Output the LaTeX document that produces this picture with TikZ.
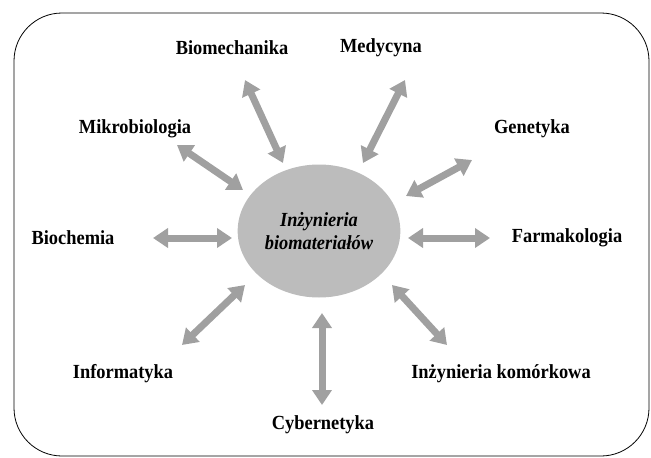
\documentclass[tikz,border=0pt]{standalone}
\usepackage{fontspec}
\setmainfont{Liberation Serif}[FakeStretch=0.92]
\usetikzlibrary{arrows.meta, shapes.geometric}

\definecolor{linkgray}{RGB}{160,160,160}
\definecolor{coregray}{RGB}{188,188,188}

\tikzset{
    field/.style={font=\fontsize{20}{23}\selectfont\bfseries, inner sep=1pt},
    link/.style={draw=linkgray, line width=7pt,
        {Triangle[length=15pt,width=19pt]}-{Triangle[length=15pt,width=19pt]}},
}

\begin{document}
\begin{tikzpicture}[x=1pt, y=-1pt]
    \useasboundingbox (0,0) rectangle (651,458);

    % frame
    \draw[line width=0.8pt, rounded corners=48pt] (14,13) rectangle (649,456);

    % centre
    \node[ellipse, fill=coregray, minimum width=161pt, minimum height=133pt, align=center,
        font=\fontsize{20}{23}\selectfont\bfseries\itshape] (core) at (319,231)
        {Inżynieria\\biomateriałów};

    % fields
    \node[field] (mech) at (232,48) {Biomechanika};
    \node[field] (med) at (381,48) {Medycyna};
    \node[field] (mikro) at (135,129) {Mikrobiologia};
    \node[field] (gen) at (532,129) {Genetyka};
    \node[field] (chem) at (73,238) {Biochemia};
    \node[field] (farm) at (567,238) {Farmakologia};
    \node[field] (info) at (123,374) {Informatyka};
    \node[field] (kom) at (501,374) {Inżynieria komórkowa};
    \node[field] (cyb) at (323,425) {Cybernetyka};

    % arrow ends
    \coordinate (mech1) at (245,80);   \coordinate (mech2) at (283,163);
    \coordinate (med1) at (405,80);    \coordinate (med2) at (363,163);
    \coordinate (mikro1) at (177,145); \coordinate (mikro2) at (243,190);
    \coordinate (gen1) at (472,160);   \coordinate (gen2) at (406,196);
    \coordinate (chem1) at (153,238);  \coordinate (chem2) at (232,238);
    \coordinate (farm1) at (408,238);  \coordinate (farm2) at (490,238);
    \coordinate (info1) at (182,345);  \coordinate (info2) at (245,285);
    \coordinate (kom1) at (392,285);   \coordinate (kom2) at (447,345);
    \coordinate (cyb1) at (322,313);   \coordinate (cyb2) at (322,405);

    \draw[link] (mech1) -- (mech2);
    \draw[link] (med1) -- (med2);
    \draw[link] (mikro1) -- (mikro2);
    \draw[link] (gen1) -- (gen2);
    \draw[link] (chem1) -- (chem2);
    \draw[link] (farm1) -- (farm2);
    \draw[link] (info1) -- (info2);
    \draw[link] (kom1) -- (kom2);
    \draw[link] (cyb1) -- (cyb2);
\end{tikzpicture}
\end{document}
